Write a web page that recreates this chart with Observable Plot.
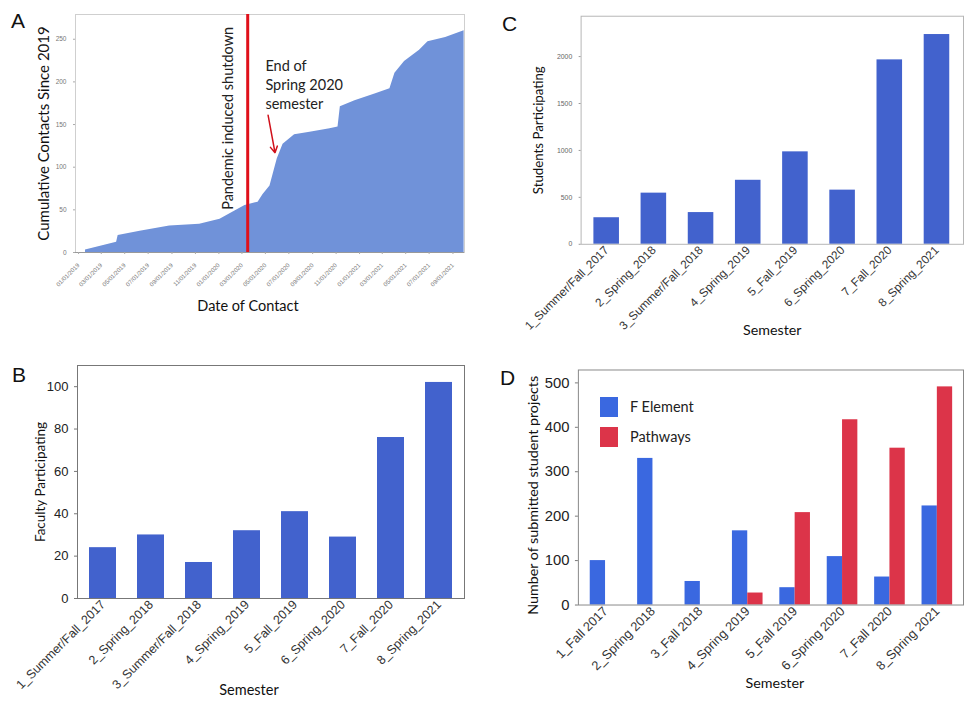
<!DOCTYPE html>
<html><head><meta charset="utf-8">
<script src="https://cdn.jsdelivr.net/npm/d3@7"></script>
<script src="https://cdn.jsdelivr.net/npm/@observablehq/plot@0.6"></script>
<style>
html,body{margin:0;padding:0;background:#fff;overflow:hidden}
#fig{position:relative;width:964px;height:701px;overflow:hidden;background:#fff}
.panel{position:absolute}
.letter{position:absolute;font-family:"Liberation Sans",Arial,sans-serif;font-size:21px;color:#111;line-height:1}
.leg{position:absolute;font-family:Lato,"Open Sans",sans-serif;font-size:14.5px;color:#222}
.sw{position:absolute;width:18px;height:20px}
</style></head><body><div id="fig"></div>
<script>
// ---------- Panel A data ----------
const contactDates = ["2019-01-19","2019-04-10","2019-04-14","2019-06-10","2019-08-26","2019-11-12","2020-01-04","2020-02-13","2020-03-09","2020-04-12","2020-04-25","2020-05-13","2020-06-01","2020-06-16","2020-07-16","2020-08-25","2020-10-16","2020-11-06","2020-11-12","2020-12-20","2021-02-12","2021-03-21","2021-04-03","2021-04-28","2021-06-06","2021-06-28","2021-08-13","2021-09-30"];
const contactCumulative = [3,12,20,25,31,33,39,49,55,59,68,78,110,127,138,141,145,147,171,178,186,192,210,224,237,247,252,260];
const dateTickLabels = ["01/01/2019","03/01/2019","05/01/2019","07/01/2019","09/01/2019","11/01/2019","01/01/2020","03/01/2020","05/01/2020","07/01/2020","09/01/2020","11/01/2020","01/01/2021","03/01/2021","05/01/2021","07/01/2021","09/01/2021"];
const shutdownDate = "2020-03-16";
const shutdownLabel = "Pandemic induced shutdown";
const endSpringLabel = "End of\nSpring 2020\nsemester";
const endSpringLabelAt = {date: "2020-05-01", value: 228};
const endSpringArrow = {date1: "2020-05-08", value1: 161, date2: "2020-05-26", value2: 117};

// ---------- Panels B, C ----------
const semestersBC = ["1_Summer/Fall_2017","2_Spring_2018","3_Summer/Fall_2018","4_Spring_2019","5_Fall_2019","6_Spring_2020","7_Fall_2020","8_Spring_2021"];
const facultyParticipating = [24,30,17,32,41,29,76,102];
const studentsParticipating = [283,545,338,682,985,577,1965,2235];

// ---------- Panel D ----------
const semestersD = ["1_Fall 2017","2_Spring 2018","3_Fall 2018","4_Spring 2019","5_Fall 2019","6_Spring 2020","7_Fall 2020","8_Spring 2021"];
const fElementProjects = [100,330,53,167,39,109,63,223];
const pathwaysProjects = [0,0,0,27,208,417,353,491];
const seriesNames = ["F Element","Pathways"];

const parse = d3.utcParse("%Y-%m-%d");
const parseTick = d3.utcParse("%m/%d/%Y");
const fmtTick = d3.utcFormat("%m/%d/%Y");
const titleFont = 'Lato, "Open Sans", sans-serif';
const tickFont = '"Liberation Sans", Arial, sans-serif';
const fig = document.getElementById("fig");

function place(el, left, top) {
  const d = document.createElement("div");
  d.className = "panel"; d.style.left = left + "px"; d.style.top = top + "px";
  d.appendChild(el); fig.appendChild(d);
}

// ---------- Panel A ----------
const areaData = contactDates.map((d, i) => ({date: parse(d), value: contactCumulative[i]}));
const tickDates = dateTickLabels.map(parseTick);
const plotA = Plot.plot({
  width: 480, height: 330,
  marginLeft: 75, marginRight: 16, marginTop: 14, marginBottom: 78,
  style: {fontFamily: tickFont, background: "transparent"},
  x: {type: "utc", domain: [parse("2018-12-24"), parse("2021-10-01")]},
  y: {domain: [0, 279]},
  marks: [
    Plot.areaY(areaData, {x: "date", y: "value", fill: "#7092d9", curve: "linear"}),
    Plot.frame({stroke: "#cfcfcf"}),
    Plot.ruleY([0], {stroke: "#999"}),
    Plot.ruleX([parse(shutdownDate)], {stroke: "#e0101a", strokeWidth: 3}),
    Plot.text([shutdownLabel], {x: parse(shutdownDate), y: 50, rotate: -90, textAnchor: "start", dx: -19, fontSize: 14.5, fontFamily: titleFont, fill: "#222"}),
    Plot.text([endSpringLabel], {x: parse(endSpringLabelAt.date), y: endSpringLabelAt.value, textAnchor: "start", lineAnchor: "top", lineHeight: 1.3, fontSize: 14.5, fontFamily: titleFont, fill: "#222"}),
    Plot.arrow([endSpringArrow], {x1: d => parse(d.date1), y1: "value1", x2: d => parse(d.date2), y2: "value2", stroke: "#d0101a", strokeWidth: 1.5, headLength: 7}),
    Plot.axisX({ticks: tickDates, tickFormat: fmtTick, tickRotate: -45, fontSize: 6, tickSize: 2, stroke: "#aaa", fill: "#777", label: null}),
    Plot.axisY({ticks: [0,50,100,150,200,250], fontSize: 6.5, tickSize: 2, stroke: "#aaa", fill: "#777", label: null}),
    Plot.text(["Cumulative Contacts Since 2019"], {frameAnchor: "left", textAnchor: "middle", rotate: -90, dx: -31, fontSize: 15, fontFamily: titleFont, fill: "#111"}),
    Plot.text(["Date of Contact"], {frameAnchor: "bottom", textAnchor: "middle", dx: -22, dy: 58, fontSize: 14.5, fontFamily: titleFont, fill: "#111"})
  ]
});
place(plotA, 0, 0);

// ---------- Panel C ----------
const dataC = semestersBC.map((s, i) => ({semester: s, value: studentsParticipating[i]}));
const plotC = Plot.plot({
  width: 472, height: 360,
  marginLeft: 82, marginRight: 1, marginTop: 16, marginBottom: 112,
  style: {fontFamily: tickFont, background: "transparent"},
  x: {domain: semestersBC, paddingInner: 0.45, paddingOuter: 0.225},
  y: {domain: [0, 2430]},
  marks: [
    Plot.barY(dataC, {x: "semester", y: "value", fill: "#4262cd"}),
    Plot.frame({stroke: "#b5b5b5"}),
    Plot.axisX({tickRotate: -45, fontSize: 12, tickSize: 0, tickPadding: 4, fill: "#333", label: null}),
    Plot.axisY({ticks: [0,500,1000,1500,2000], tickFormat: d3.format("d"), fontSize: 7, tickSize: 2, stroke: "#999", fill: "#666", label: null}),
    Plot.text(["Students Participating"], {frameAnchor: "left", textAnchor: "middle", rotate: -90, dx: -43, fontSize: 13.5, fontFamily: titleFont, fill: "#111"}),
    Plot.text(["Semester"], {frameAnchor: "bottom", textAnchor: "middle", dy: 92, fontSize: 14.5, fontFamily: titleFont, fill: "#111"})
  ]
});
place(plotC, 500, 0);

// ---------- Panel B ----------
const dataB = semestersBC.map((s, i) => ({semester: s, value: facultyParticipating[i]}));
const plotB = Plot.plot({
  width: 480, height: 371,
  marginLeft: 77, marginRight: 16, marginTop: 35, marginBottom: 103,
  style: {fontFamily: tickFont, background: "transparent"},
  x: {domain: semestersBC, paddingInner: 0.44, paddingOuter: 0.22},
  y: {domain: [0, 110]},
  marks: [
    Plot.barY(dataB, {x: "semester", y: "value", fill: "#4262cd"}),
    Plot.frame({stroke: "#777"}),
    Plot.axisX({tickRotate: -45, fontSize: 12.5, tickSize: 0, tickPadding: 4, fill: "#333", label: null}),
    Plot.axisY({ticks: [0,20,40,60,80,100], fontSize: 13, tickSize: 3, stroke: "#777", fill: "#222", label: null}),
    Plot.text(["Faculty Participating"], {frameAnchor: "left", textAnchor: "middle", rotate: -90, dx: -37, fontSize: 13.5, fontFamily: titleFont, fill: "#111"}),
    Plot.text(["Semester"], {frameAnchor: "bottom", textAnchor: "middle", dx: -22, dy: 96, fontSize: 14.5, fontFamily: titleFont, fill: "#111"})
  ]
});
place(plotB, 0, 330);

// ---------- Panel D ----------
const dataD = semestersD.map((s, i) => ({semester: s, fe: fElementProjects[i], pw: pathwaysProjects[i]}));
const plotD = Plot.plot({
  width: 480, height: 371,
  marginLeft: 89, marginRight: 1, marginTop: 40, marginBottom: 93,
  style: {fontFamily: tickFont, background: "transparent"},
  x: {domain: semestersD, paddingInner: 0.36, paddingOuter: 0.2},
  y: {domain: [0, 529]},
  color: {domain: seriesNames, range: ["#3a68e0", "#dc3449"]},
  marks: [
    Plot.barY(dataD, {x: "semester", y: "fe", fill: () => seriesNames[0], insetRight: 15.5}),
    Plot.barY(dataD, {x: "semester", y: "pw", fill: () => seriesNames[1], insetLeft: 15.5}),
    Plot.frame({stroke: "#888"}),
    Plot.axisX({tickRotate: -45, fontSize: 13, tickSize: 0, tickPadding: 4, fill: "#333", label: null}),
    Plot.axisY({ticks: [0,100,200,300,400,500], fontSize: 15, tickSize: 3, stroke: "#777", fill: "#222", label: null}),
    Plot.text(["Number of submitted student projects"], {frameAnchor: "left", textAnchor: "middle", rotate: -90, dx: -46, dy: 8, fontSize: 14.5, fontFamily: titleFont, fill: "#111"}),
    Plot.text(["Semester"], {frameAnchor: "bottom", textAnchor: "middle", dx: 4, dy: 84, fontSize: 14.5, fontFamily: titleFont, fill: "#111"})
  ]
});
place(plotD, 490, 330);

// legend for D
const legColors = ["#3a68e0", "#dc3449"];
seriesNames.forEach((name, i) => {
  const sw = document.createElement("div");
  sw.className = "sw"; sw.style.left = "600px"; sw.style.top = (397 + 30 * i) + "px"; sw.style.background = legColors[i];
  fig.appendChild(sw);
  const t = document.createElement("div");
  t.className = "leg"; t.textContent = name; t.style.left = "630px"; t.style.top = (398 + 30 * i) + "px";
  fig.appendChild(t);
});

// panel letters
[["A", 11, 10], ["B", 12, 364], ["C", 502, 13], ["D", 500, 367]].forEach(([l, x, y]) => {
  const d = document.createElement("div");
  d.className = "letter"; d.textContent = l; d.style.left = x + "px"; d.style.top = y + "px";
  fig.appendChild(d);
});
</script>
</body></html>
